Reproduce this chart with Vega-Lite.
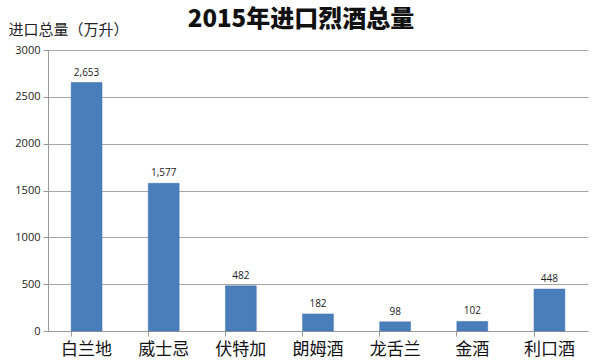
{
  "$schema": "https://vega.github.io/schema/vega-lite/v6.json",
  "autosize": "none",
  "width": 540,
  "height": 281,
  "padding": {"left": 48, "top": 50, "right": 12, "bottom": 32},
  "background": "white",
  "title": {
    "text": "2015年进口烈酒总量",
    "font": "Noto Sans CJK SC",
    "fontWeight": 900,
    "fontSize": 24,
    "color": "#111111",
    "anchor": "middle",
    "dx": -17,
    "offset": -10
  },
  "data": {
    "values": [
      {"type": "白兰地", "value": 2653},
      {"type": "威士忌", "value": 1577},
      {"type": "伏特加", "value": 482},
      {"type": "朗姆酒", "value": 182},
      {"type": "龙舌兰", "value": 98},
      {"type": "金酒", "value": 102},
      {"type": "利口酒", "value": 448}
    ]
  },
  "encoding": {
    "x": {
      "field": "type",
      "type": "nominal",
      "sort": null,
      "scale": {"paddingInner": 0.6, "paddingOuter": 0.3},
      "axis": {
        "title": null,
        "labelAngle": 0,
        "labelFont": "Noto Sans CJK SC",
        "labelFontSize": 17,
        "labelColor": "#111111",
        "labelPadding": 5,
        "bandPosition": 0,
        "tickColor": "#999999",
        "tickSize": 5,
        "domainColor": "#999999",
        "grid": false
      }
    },
    "y": {
      "field": "value",
      "type": "quantitative",
      "scale": {"domain": [0, 3000], "nice": false},
      "axis": {
        "values": [0, 500, 1000, 1500, 2000, 2500, 3000],
        "format": "d",
        "title": "进口总量（万升）",
        "titleAngle": 0,
        "titleX": -40,
        "titleY": -21,
        "titleAlign": "left",
        "titleBaseline": "middle",
        "titleFont": "Noto Sans CJK SC",
        "titleFontSize": 15,
        "titleFontWeight": "normal",
        "titleColor": "#222222",
        "labelFont": "Open Sans",
        "labelFontSize": 11,
        "labelColor": "#222222",
        "labelPadding": 3,
        "tickColor": "#999999",
        "tickSize": 5,
        "domainColor": "#999999",
        "gridColor": "#a6a6a6",
        "gridWidth": 1
      }
    }
  },
  "layer": [
    {
      "mark": {"type": "bar", "color": "#4a7ebb", "stroke": "#3f72ad", "strokeWidth": 0.5}
    },
    {
      "mark": {"type": "text", "dy": -10, "font": "Open Sans", "fontSize": 10, "color": "#222222"},
      "encoding": {
        "text": {"field": "value", "type": "quantitative", "format": ","}
      }
    }
  ],
  "config": {"view": {"stroke": null}}
}
